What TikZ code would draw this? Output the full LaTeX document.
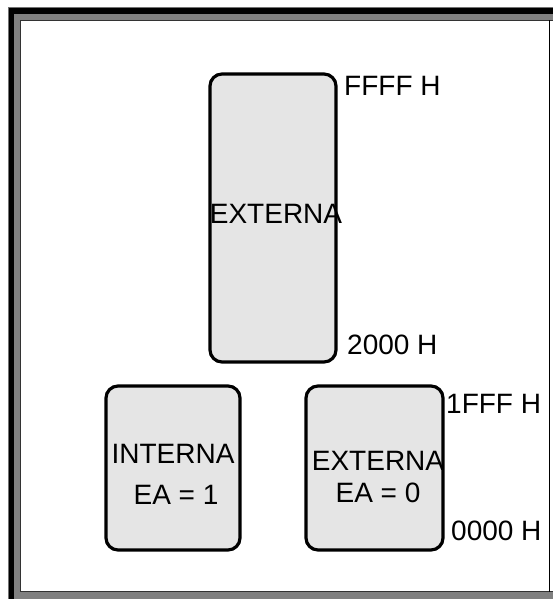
\documentclass[tikz,border=0pt]{standalone}
\usepackage{fontspec}
\setmainfont{Liberation Sans}
\begin{document}
\begin{tikzpicture}[x=1pt,y=-1pt,
  mem/.style={draw=black,line width=3.2pt,fill=black!10,rounded corners=12pt},
  lbl/.style={inner sep=0pt,font=\fontsize{28}{32}\selectfont},
]
\useasboundingbox (0,0) rectangle (553,599);
% frame
\fill[white] (0,0) rectangle (553,599);
\fill[black!55] (7.5,7.5) rectangle (553,599);
\fill[black] (8.5,8.5) rectangle (553,14);
\fill[black] (8.5,8.5) rectangle (14,599);
\fill[black!50] (14,14) rectangle (553,599);
\fill[white] (20,20.5) rectangle (553,591.5);
\draw[black!80,line width=1.2pt] (20.5,591.5) -- (20.5,20.5) -- (553,20.5);
\draw[black!80,line width=1.2pt] (20.5,591.5) -- (553,591.5);
\draw[black,line width=1.2pt] (549.3,20.5) -- (549.3,591.5);
% boxes
\path[mem] (210,74) rectangle (336,362);
\path[mem] (106,386) rectangle (240,550);
\path[mem] (306,386) rectangle (443,550);
\node[lbl,anchor=base] (t1) at (276,223) {EXTERNA};
\node[lbl,anchor=base] (t2) at (173,463) {INTERNA};
\node[lbl,anchor=base] (t3) at (176,504) {EA = 1};
\node[lbl,anchor=base] (t4) at (378,470) {EXTERNA};
\node[lbl,anchor=base] (t5) at (378,502) {EA = 0};
\node[lbl,anchor=base west] (a1) at (344,96) {FFFF H};
\node[lbl,anchor=base west] (a2) at (347,354) {2000 H};
\node[lbl,anchor=base west] (a3) at (446,413) {1FFF H};
\node[lbl,anchor=base west] (a4) at (451,540) {0000 H};
\end{tikzpicture}
\end{document}
